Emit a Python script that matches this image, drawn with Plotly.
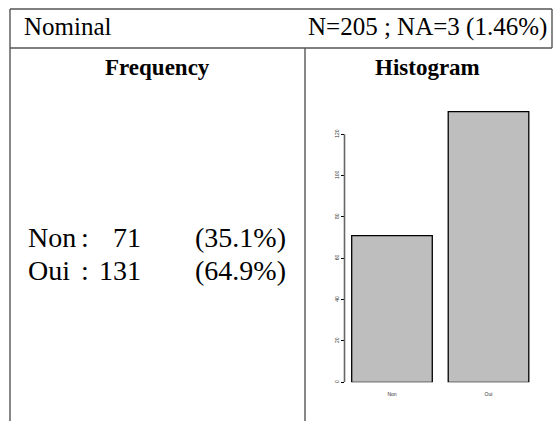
import plotly.graph_objects as go

categories = ["Non", "Oui"]
counts = [71, 131]
percents = ["(35.1%)", "(64.9%)"]
ytick_vals = [0, 20, 40, 60, 80, 100, 120]
header_left = "Nominal"
header_right = "N=205 ; NA=3 (1.46%)"
col_titles = ["Frequency", "Histogram"]

W, H = 554, 421
SERIF = "Liberation Serif, Times New Roman, serif"

def px(x):
    return x / W

def py(y):
    return 1 - y / H

fig = go.Figure()
fig.add_trace(go.Bar(
    x=categories, y=counts,
    marker=dict(color="#BEBEBE", line=dict(color="black", width=1.3)),
    showlegend=False, hoverinfo="skip",
))

ax_left, ax_right = 344.5, 535.8
y_bottom = 382.3
ppu = 2.0667
yr = [0, 135]
y_top = y_bottom - yr[1] * ppu

fig.update_layout(
    width=W, height=H,
    margin=dict(l=0, r=0, t=0, b=0),
    paper_bgcolor="white", plot_bgcolor="white",
    bargap=0.165,
    xaxis=dict(
        domain=[px(ax_left), px(ax_right)],
        range=[-0.492, 1.49],
        showgrid=False, zeroline=False, showline=False,
        ticks="outside", ticklen=7, tickcolor="rgba(0,0,0,0)",
        tickfont=dict(size=5, color="#333", family="Liberation Sans, Arial"),
    ),
    yaxis=dict(
        domain=[py(y_bottom), py(y_top)],
        range=yr,
        tickvals=ytick_vals,
        showgrid=False, zeroline=False, showline=False,
        ticks="outside", ticklen=3, tickwidth=1, tickcolor="black",
        tickangle=-90,
        tickfont=dict(size=5, color="#333", family="Liberation Sans, Arial"),
    ),
)

# y axis line spanning tick range
fig.add_shape(type="line", xref="paper", yref="y",
              x0=px(ax_left), x1=px(ax_left),
              y0=min(ytick_vals), y1=max(ytick_vals),
              line=dict(color="#666", width=1.6))

# table lines
line_style = dict(color="#555", width=1.4)
L, R, T, M, D = 10, 552, 9, 48, 305
for (x0, y0, x1, y1) in [(L, T, R, T), (L, M, R, M), (L, T, L, H), (D, M, D, H), (R, T, R, M)]:
    fig.add_shape(type="line", xref="paper", yref="paper",
                  x0=px(x0), y0=py(y0), x1=px(x1), y1=py(y1), line=line_style)

def text(s, x, y, anchor, size=24, bold=False):
    fig.add_annotation(text=f"<b>{s}</b>" if bold else s,
                       xref="paper", yref="paper", x=px(x), y=py(y),
                       xanchor=anchor, yanchor="middle", showarrow=False,
                       font=dict(family=SERIF, size=size, color="black"))

text(header_left, 22, 27, "left", size=25)
text(header_right, 549, 27, "right", size=25)
text(col_titles[0], 157, 68, "center", size=23, bold=True)
text(col_titles[1], 427, 68, "center", size=23, bold=True)

row_y = [237, 270]
for i, (c, n, p) in enumerate(zip(categories, counts, percents)):
    text(c, 26, row_y[i], "left", size=28)
    text(":", 79, row_y[i], "left", size=28)
    text(str(n), 143, row_y[i], "right", size=28)
    text(p, 288, row_y[i], "right", size=28)

fig.write_html("out.html")
